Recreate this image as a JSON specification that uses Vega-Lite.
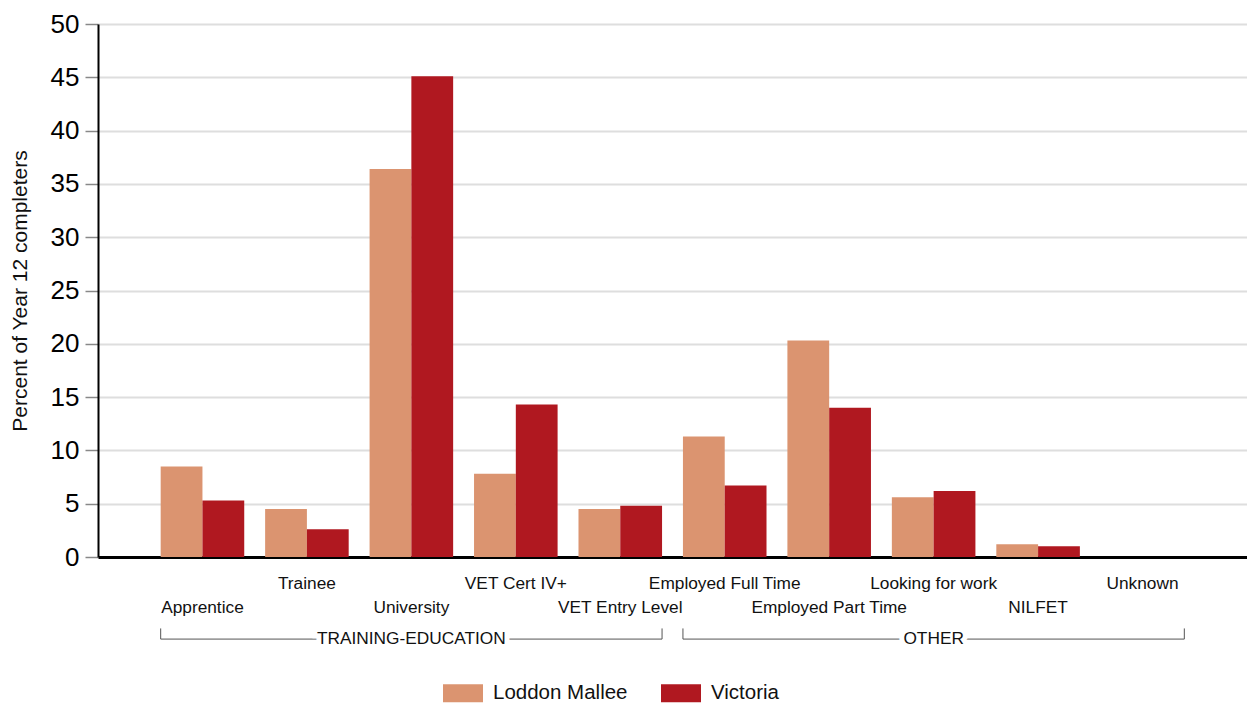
{
  "$schema": "https://vega.github.io/schema/vega-lite/v6.json",
  "width": 1149,
  "height": 533,
  "autosize": "none",
  "padding": {"left": 98, "top": 24, "right": 0, "bottom": 148},
  "background": "white",
  "config": {"view": {"stroke": null}, "font": "Liberation Sans"},
  "datasets": {
    "bars": [
      {"category": "Apprentice", "series": "Loddon Mallee", "value": 8.5},
      {"category": "Apprentice", "series": "Victoria", "value": 5.3},
      {"category": "Trainee", "series": "Loddon Mallee", "value": 4.5},
      {"category": "Trainee", "series": "Victoria", "value": 2.6},
      {"category": "University", "series": "Loddon Mallee", "value": 36.4},
      {"category": "University", "series": "Victoria", "value": 45.1},
      {"category": "VET Cert IV+", "series": "Loddon Mallee", "value": 7.8},
      {"category": "VET Cert IV+", "series": "Victoria", "value": 14.3},
      {"category": "VET Entry Level", "series": "Loddon Mallee", "value": 4.5},
      {"category": "VET Entry Level", "series": "Victoria", "value": 4.8},
      {"category": "Employed Full Time", "series": "Loddon Mallee", "value": 11.3},
      {"category": "Employed Full Time", "series": "Victoria", "value": 6.7},
      {"category": "Employed Part Time", "series": "Loddon Mallee", "value": 20.3},
      {"category": "Employed Part Time", "series": "Victoria", "value": 14.0},
      {"category": "Looking for work", "series": "Loddon Mallee", "value": 5.6},
      {"category": "Looking for work", "series": "Victoria", "value": 6.2},
      {"category": "NILFET", "series": "Loddon Mallee", "value": 1.2},
      {"category": "NILFET", "series": "Victoria", "value": 1.0},
      {"category": "Unknown", "series": "Loddon Mallee", "value": 0},
      {"category": "Unknown", "series": "Victoria", "value": 0}
    ],
    "groups": [
      {"group": "TRAINING-EDUCATION", "start": "Apprentice", "mid": "University", "end": "VET Entry Level"},
      {"group": "OTHER", "start": "Employed Full Time", "mid": "Looking for work", "end": "Unknown"}
    ]
  },
  "layer": [
    {
      "data": {"name": "bars"},
      "mark": {"type": "bar"},
      "encoding": {
        "x": {
          "field": "category",
          "type": "nominal",
          "sort": null,
          "title": null,
          "scale": {
            "domain": ["Apprentice", "Trainee", "University", "VET Cert IV+", "VET Entry Level", "Employed Full Time", "Employed Part Time", "Looking for work", "NILFET", "Unknown"],
            "paddingInner": 0.2,
            "paddingOuter": 0.6
          },
          "axis": {
            "ticks": false,
            "domainColor": "#000000",
            "domainWidth": 3,
            "labelFontSize": 17.3,
            "labelColor": "#111111",
            "labelPadding": 17,
            "labelAngle": 0,
            "labelLimit": 0,
            "labelOverlap": false,
            "labelLineHeight": 24,
            "labelExpr": "indexof(['Apprentice','University','VET Entry Level','Employed Part Time','NILFET'], datum.value) >= 0 ? ['', datum.label] : datum.label"
          }
        },
        "xOffset": {
          "field": "series",
          "type": "nominal",
          "scale": {"domain": ["Loddon Mallee", "Victoria"], "paddingInner": 0, "paddingOuter": 0}
        },
        "y": {
          "field": "value",
          "type": "quantitative",
          "title": "Percent of Year 12 completers",
          "scale": {"domain": [0, 50], "nice": false},
          "axis": {
            "values": [0, 5, 10, 15, 20, 25, 30, 35, 40, 45, 50],
            "labelFontSize": 26,
            "labelColor": "#000000",
            "tickColor": "#888888",
            "tickSize": 13,
            "tickWidth": 1.5,
            "domainColor": "#000000",
            "domainWidth": 2,
            "gridColor": "#dedede",
            "gridWidth": 2,
            "labelPadding": 6,
            "titleFontSize": 21,
            "titleFontWeight": "normal",
            "titleColor": "#111111",
            "titlePadding": 20
          }
        },
        "color": {
          "field": "series",
          "type": "nominal",
          "scale": {"domain": ["Loddon Mallee", "Victoria"], "range": ["#DB9470", "#B01820"]},
          "legend": {
            "title": null,
            "orient": "none",
            "legendX": 345,
            "legendY": 649,
            "direction": "horizontal",
            "symbolType": "M-1,-0.45H1V0.45H-1Z",
            "symbolSize": 1600,
            "symbolStrokeWidth": 0,
            "symbolOpacity": 1,
            "labelFontSize": 20.5,
            "labelColor": "#111111",
            "labelOffset": 10,
            "columnPadding": 33,
            "labelLimit": 0
          }
        }
      }
    },
    {
      "data": {"name": "groups"},
      "mark": {"type": "rule", "color": "#555555", "strokeWidth": 1},
      "encoding": {
        "x": {"field": "start", "type": "nominal", "bandPosition": 0, "title": null},
        "x2": {"field": "end", "bandPosition": 1},
        "y": {"datum": -7.7}
      }
    },
    {
      "data": {"name": "groups"},
      "mark": {"type": "rule", "color": "#555555", "strokeWidth": 1},
      "encoding": {
        "x": {"field": "start", "type": "nominal", "bandPosition": 0, "title": null},
        "y": {"datum": -7.7},
        "y2": {"datum": -6.7}
      }
    },
    {
      "data": {"name": "groups"},
      "mark": {"type": "rule", "color": "#555555", "strokeWidth": 1},
      "encoding": {
        "x": {"field": "end", "type": "nominal", "bandPosition": 1, "title": null},
        "y": {"datum": -7.7},
        "y2": {"datum": -6.7}
      }
    },
    {
      "data": {"name": "groups"},
      "mark": {"type": "text", "fontSize": 17.3, "baseline": "middle", "align": "center", "fill": "white", "stroke": "white", "strokeWidth": 10},
      "encoding": {
        "x": {"field": "mid", "type": "nominal", "bandPosition": 0.5, "title": null},
        "y": {"datum": -7.7},
        "text": {"field": "group"}
      }
    },
    {
      "data": {"name": "groups"},
      "mark": {"type": "text", "fontSize": 17.3, "baseline": "middle", "align": "center", "fill": "#111111"},
      "encoding": {
        "x": {"field": "mid", "type": "nominal", "bandPosition": 0.5, "title": null},
        "y": {"datum": -7.7},
        "text": {"field": "group"}
      }
    }
  ]
}
